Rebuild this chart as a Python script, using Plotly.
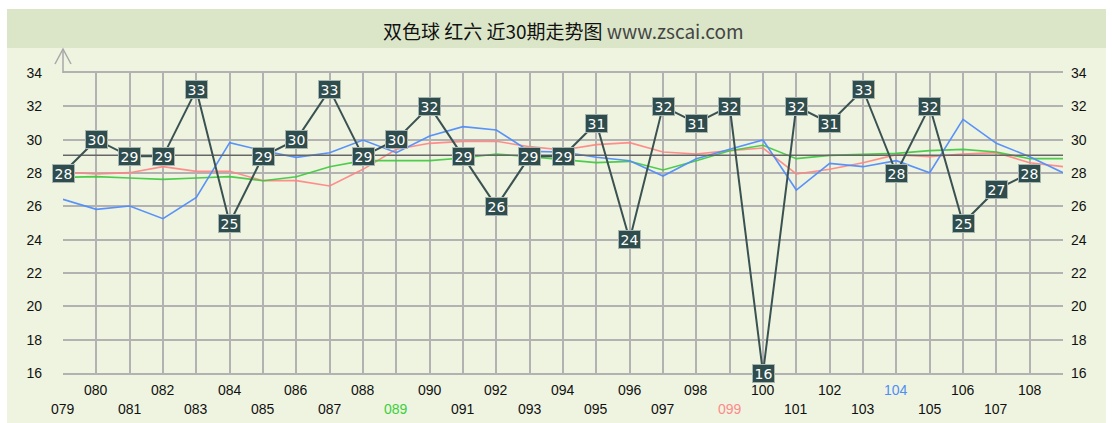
import plotly.graph_objects as go

# Draw periods 079-108; the trend lines carry one extra point for 109
periods = ["079", "080", "081", "082", "083", "084", "085", "086", "087", "088",
           "089", "090", "091", "092", "093", "094", "095", "096", "097", "098",
           "099", "100", "101", "102", "103", "104", "105", "106", "107", "108"]
red6 = [28, 30, 29, 29, 33, 25, 29, 30, 33, 29,
        30, 32, 29, 26, 29, 29, 31, 24, 32, 31,
        32, 16, 32, 31, 33, 28, 32, 25, 27, 28]

trend_blue = [26.42, 25.82, 26.02, 25.26, 26.54, 29.82, 29.34, 28.94,
              29.22, 29.98, 29.22, 30.22, 30.78, 30.58, 29.30, 29.26,
              28.94, 28.74, 27.82, 28.86, 29.42, 29.98, 26.98, 28.58,
              28.38, 28.74, 28.02, 31.22, 29.78, 28.98, 28.02]
trend_red = [28.06, 27.94, 28.02, 28.38, 28.10, 28.10, 27.54, 27.54,
             27.22, 28.22, 29.42, 29.78, 29.90, 29.90, 29.58, 29.38,
             29.70, 29.82, 29.26, 29.14, 29.34, 29.50, 27.94, 28.22,
             28.62, 29.10, 28.98, 29.14, 29.22, 28.62, 28.38]
trend_green = [27.74, 27.78, 27.70, 27.62, 27.70, 27.78, 27.54, 27.78,
               28.38, 28.74, 28.74, 28.74, 28.90, 29.14, 28.98, 28.78,
               28.62, 28.70, 28.18, 28.74, 29.34, 29.66, 28.86, 29.06,
               29.14, 29.18, 29.34, 29.42, 29.26, 28.86, 28.86]

# Period labels drawn in colour
label_colors = {"089": "#3ccf3c", "099": "#ff8a8a", "104": "#4f8ef7"}

y_ticks = [16, 18, 20, 22, 24, 26, 28, 30, 32, 34]

W, H = 1112, 423
ML, MR, MT, MB = 63, 49, 73, 50
PW, PH = W - ML - MR, H - MT - MB


def px(xpix):
    return (xpix - ML) / PW


def py(ypix):
    return (H - MB - ypix) / PH


n = len(periods)
idx = list(range(n))
idx_ext = list(range(len(trend_blue)))
mean_val = sum(red6) / n

fig = go.Figure()

for ys, col, w in [(trend_red, "rgba(255,130,130,0.9)", 1.6),
                   (trend_green, "rgba(60,200,60,0.9)", 1.6),
                   (trend_blue, "rgba(80,140,250,0.95)", 1.6)]:
    fig.add_trace(go.Scatter(x=idx_ext, y=ys, mode="lines",
                             line=dict(color=col, width=w),
                             hoverinfo="skip", showlegend=False))

# Average of the 30 draws
fig.add_trace(go.Scatter(x=[0, idx_ext[-1]], y=[mean_val, mean_val], mode="lines",
                         line=dict(color="#666666", width=1.6),
                         hoverinfo="skip", showlegend=False))

# Main value line
fig.add_trace(go.Scatter(x=idx, y=red6, mode="lines",
                         line=dict(color="#3b5252", width=2),
                         hoverinfo="skip", showlegend=False))

# Invisible trace so the right axis gets drawn
fig.add_trace(go.Scatter(x=[0], y=[16], yaxis="y2", mode="markers",
                         marker=dict(opacity=0), hoverinfo="skip", showlegend=False))

annotations = []
for i, v in enumerate(red6):
    annotations.append(dict(
        x=i, y=v, xref="x", yref="y", text=str(v), showarrow=False,
        font=dict(family="DejaVu Sans", size=14, color="white"),
        bgcolor="#2f4d4d", bordercolor="#a9b5b0", borderwidth=1, borderpad=0,
        width=21, height=17,
    ))

for i, p in enumerate(periods):
    row_y = 390 if i % 2 == 1 else 409
    annotations.append(dict(
        x=i, y=py(row_y), xref="x", yref="paper", text=p, showarrow=False,
        font=dict(family="Liberation Sans, Arial", size=14,
                  color=label_colors.get(p, "#111111")),
        xanchor="center", yanchor="middle",
    ))

annotations.append(dict(
    x=0.5, y=py(30), xref="paper", yref="paper", showarrow=False,
    text="双色球 红六 近30期走势图 <span style='color:#444'>www.zscai.com</span>",
    font=dict(family="Noto Sans CJK SC", size=19, color="#111111"),
    xanchor="center", yanchor="middle",
))

shapes = [
    # page background and title band
    dict(type="rect", xref="paper", yref="paper", x0=px(7), x1=px(1106),
         y0=py(H + 5), y1=py(48), fillcolor="#eef4e0", line=dict(width=0), layer="below"),
    dict(type="rect", xref="paper", yref="paper", x0=px(7), x1=px(1106),
         y0=py(48), y1=py(9), fillcolor="#dbe6c8", line=dict(width=0), layer="below"),
    # y axis stem with arrow head
    dict(type="line", xref="paper", yref="paper", x0=0, x1=0, y0=1, y1=py(49),
         line=dict(color="#a8a8a8", width=1.5)),
    dict(type="path", xref="paper", yref="paper",
         path=f"M {px(55)} {py(64)} L 0 {py(49)} L {px(71)} {py(64)}",
         line=dict(color="#a8a8a8", width=1.5)),
]

axis_font = dict(family="Liberation Sans, Arial", size=14, color="#111111")
fig.update_layout(
    width=W, height=H,
    margin=dict(l=ML, r=MR, t=MT, b=MB),
    paper_bgcolor="white", plot_bgcolor="rgba(0,0,0,0)",
    xaxis=dict(range=[0, idx_ext[-1]], tickmode="linear", tick0=0, dtick=1,
               showticklabels=False, showgrid=True, gridcolor="#b2b2b2", gridwidth=2,
               zeroline=False, showline=True, linecolor="#b2b2b2", linewidth=2,
               mirror=True, fixedrange=True),
    yaxis=dict(range=[16, 34], tickvals=y_ticks, ticktext=[str(t) for t in y_ticks],
               showgrid=True, gridcolor="#b2b2b2", gridwidth=2, zeroline=False,
               showline=False, ticks="", ticklabelstandoff=20, tickfont=axis_font,
               fixedrange=True),
    yaxis2=dict(range=[16, 34], tickvals=y_ticks, ticktext=[str(t) for t in y_ticks],
                overlaying="y", side="right", showgrid=False, zeroline=False,
                showline=False, ticks="", ticklabelstandoff=7, tickfont=axis_font,
                fixedrange=True),
    annotations=annotations,
    shapes=shapes,
    showlegend=False,
)

fig.write_html("out.html")
